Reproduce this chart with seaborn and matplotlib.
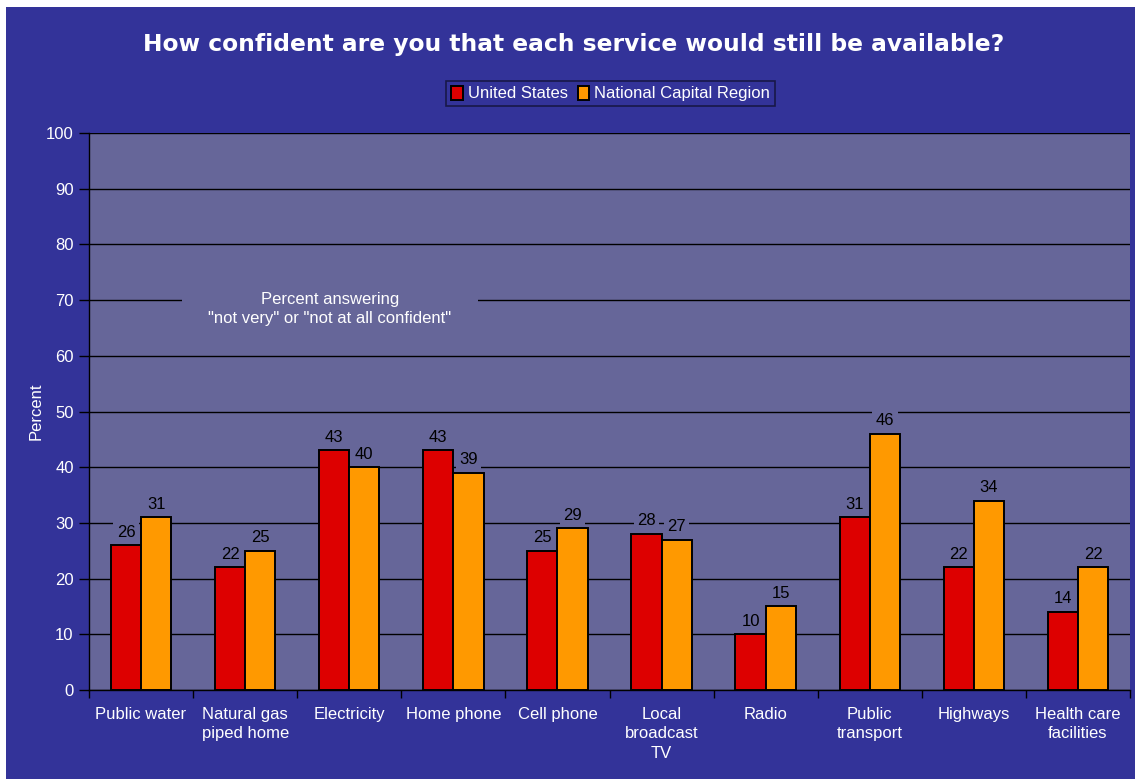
import matplotlib
matplotlib.use("Agg")
import matplotlib.pyplot as plt
from matplotlib.patches import Rectangle
from matplotlib.ticker import FixedLocator, MultipleLocator
import numpy as np
import pandas as pd
import seaborn as sns

# Survey data: share answering "not very" or "not at all confident"
services = ["Public water", "Natural gas\npiped home", "Electricity", "Home phone",
            "Cell phone", "Local\nbroadcast\nTV", "Radio", "Public\ntransport",
            "Highways", "Health care\nfacilities"]
us_values = [26, 22, 43, 43, 25, 28, 10, 31, 22, 14]
ncr_values = [31, 25, 40, 39, 29, 27, 15, 46, 34, 22]
regions = ["United States", "National Capital Region"]

FIG_BG = "#333399"
AX_BG = "#666699"
RED = "#DD0000"
ORANGE = "#FF9900"

df = pd.DataFrame({
    "Service": services * 2,
    "Region": [regions[0]] * len(services) + [regions[1]] * len(services),
    "Percent": us_values + ncr_values,
})

sns.set_theme(style="white")
plt.rcParams["font.family"] = ["Liberation Sans", "DejaVu Sans"]

fig = plt.figure(figsize=(11.35, 7.79), dpi=100, facecolor=FIG_BG)
# thin white margin along the top and left edges
fig.patches.append(Rectangle((0, 0), 6 / 1135, 1, transform=fig.transFigure,
                             facecolor="white", edgecolor="none", zorder=0))
fig.patches.append(Rectangle((0, 1 - 7 / 779), 1, 7 / 779, transform=fig.transFigure,
                             facecolor="white", edgecolor="none", zorder=0))

ax = fig.add_axes([89 / 1135, 1 - 690 / 779, (1130 - 89) / 1135, (690 - 133) / 779])
ax.set_facecolor(AX_BG)

sns.barplot(data=df, x="Service", y="Percent", hue="Region", order=services,
            hue_order=regions, palette=[RED, ORANGE], width=0.58, gap=0,
            edgecolor="black", linewidth=1.4, saturation=1, ax=ax, zorder=3,
            legend=True)

ax.set_ylim(0, 100)
ax.set_xlim(-0.5, len(services) - 0.5)
ax.yaxis.set_major_locator(MultipleLocator(10))
ax.grid(axis="y", color="black", linewidth=1.0, zorder=0)
ax.set_axisbelow(True)

for side in ["top", "right"]:
    ax.spines[side].set_visible(False)
for side in ["left", "bottom"]:
    ax.spines[side].set_color("black")
    ax.spines[side].set_linewidth(1.0)

ax.tick_params(axis="y", which="major", direction="out", length=7, width=1,
               color="black", labelcolor="white", labelsize=12, pad=4, left=True)
# category labels without tick marks; tick marks at group boundaries
ax.tick_params(axis="x", which="major", length=0, labelcolor="white",
               labelsize=12, pad=12)
ax.xaxis.set_minor_locator(FixedLocator(np.arange(-0.5, len(services), 1.0)))
ax.tick_params(axis="x", which="minor", direction="out", length=6, width=1,
               color="black", bottom=True)
for lbl in ax.get_xticklabels():
    lbl.set_linespacing(1.4)

ax.set_xlabel("")
ax.set_ylabel("Percent", color="white", fontsize=12, labelpad=2)

# value labels over each bar
for container in ax.containers:
    ax.bar_label(container, fmt="%.0f", padding=4, color="black", fontsize=12,
                 bbox=dict(facecolor=AX_BG, edgecolor="none", pad=2.5), zorder=4)

# note inside the plot
ax.text(1.815, 68.4, "Percent answering\n\"not very\" or \"not at all confident\"",
        ha="center", va="center", color="white", fontsize=12, linespacing=1.4,
        bbox=dict(facecolor=AX_BG, edgecolor="none", boxstyle="square,pad=1.6"),
        zorder=4)

handles, labels = ax.get_legend_handles_labels()
ax.get_legend().remove()
leg = fig.legend(handles, labels, loc="center", bbox_to_anchor=(610.5 / 1135, 1 - 93.5 / 779),
                 ncol=2, frameon=True, fontsize=12, handlelength=0.7, handleheight=0.9,
                 handletextpad=0.3, columnspacing=0.6, borderpad=0.3, borderaxespad=0,
                 fancybox=False)
leg.get_frame().set_facecolor(FIG_BG)
leg.get_frame().set_edgecolor("#111133")
leg.get_frame().set_linewidth(1.2)
for t in leg.get_texts():
    t.set_color("white")

fig.text(574 / 1135, 1 - 44 / 779, "How confident are you that each service would still be available?",
         ha="center", va="center", color="white", fontsize=16.8, fontweight="bold",
         family=["DejaVu Sans"])

fig.savefig("out.png", dpi=100, facecolor=FIG_BG)
